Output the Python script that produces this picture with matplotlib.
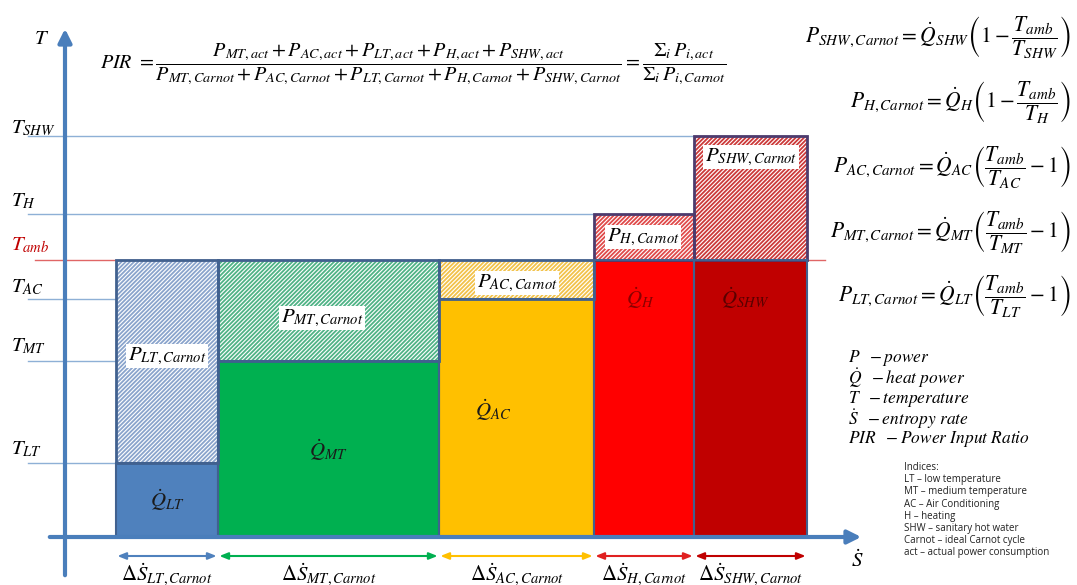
import matplotlib
matplotlib.use("Agg")
import matplotlib.pyplot as plt

plt.rcParams['mathtext.fontset'] = 'stix'
plt.rcParams['hatch.linewidth'] = 1.3

# data (arbitrary units, origin at the axes crossing)
sinks = ['LT', 'MT', 'AC', 'H', 'SHW']
s_start = 51                                  # first block starts here on the S axis
ds_widths = [102, 221, 155, 100, 113]         # entropy rate width per sink
t_levels = [74, 176, 238, 323, 401]           # sink temperature per sink
t_amb = 277
fill_colors = ['#4f81bd', '#00b050', '#ffc000', '#ff0000', '#c00000']
hatch_colors = ['#8aa4cc', '#4fb386', '#f2c24a', '#e04a4a', '#cc3a3a']
arrow_colors = ['#4f81bd', '#00b050', '#ffc000', '#e02020', '#c00000']

fig = plt.figure(figsize=(10.77, 5.85), dpi=100)
ax = fig.add_axes([0, 0, 1, 1])
ax.set_xlim(-65, 1012)
ax.set_ylim(-48, 537)
ax.axis('off')


def px(x):
    return x - 65


def py(y):
    return 537 - y


lefts = []
x = s_start
for w in ds_widths:
    lefts.append(x)
    x += w

# blocks
for i, name in enumerate(sinks):
    l, w, t = lefts[i], ds_widths[i], t_levels[i]
    q_top = min(t, t_amb)
    p_lo, p_hi = (t, t_amb) if t < t_amb else (t_amb, t)
    ax.bar(l, q_top, w, 0, align='edge', color=fill_colors[i], linewidth=0)
    ax.bar(l, p_hi - p_lo, w, p_lo, align='edge', facecolor='white',
           edgecolor=hatch_colors[i], hatch='////////', linewidth=0)
    outline = '#41618f' if t < t_amb else '#4d3b6e'
    ax.bar(l, p_hi - p_lo, w, p_lo, align='edge', fill=False,
           edgecolor=outline, linewidth=2, zorder=3)
    ax.bar(l, q_top, w, 0, align='edge', fill=False,
           edgecolor='#41618f', linewidth=1.5, zorder=3)

# temperature level lines
line_c = '#8eb0d6'
ax.plot([px(28), lefts[4] + ds_widths[4]], [t_levels[4]] * 2, color=line_c, lw=1, zorder=1)
ax.plot([px(28), lefts[3]], [t_levels[3]] * 2, color=line_c, lw=1, zorder=1)
for i in range(3):
    ax.plot([px(28), lefts[0]], [t_levels[i]] * 2, color=line_c, lw=1, zorder=1)
ax.plot([px(35), px(825)], [t_amb] * 2, color='#e06666', lw=1, zorder=1)

# axes arrows
axc = '#4a7ebb'
ax.annotate('', xy=(0, py(26)), xytext=(0, py(578)),
            arrowprops=dict(arrowstyle='-|>,head_length=0.8,head_width=0.4', color=axc, lw=3))
ax.annotate('', xy=(px(864), 0), xytext=(px(47), 0),
            arrowprops=dict(arrowstyle='-|>,head_length=0.8,head_width=0.4', color=axc, lw=3))

# temperature labels
fs = 15
ax.text(px(42), py(38), r'$T$', fontsize=fs, ha='center', va='center')
tl = [('$T_{SHW}$', 128, 'black'), ('$T_H$', 201, 'black'), ('$T_{amb}$', 245, '#c00000'),
      ('$T_{AC}$', 287, 'black'), ('$T_{MT}$', 346, 'black'), ('$T_{LT}$', 449, 'black')]
for s, y, c in tl:
    ax.text(px(11), py(y), s, fontsize=fs, ha='left', va='center', color=c)
ax.text(px(857), py(560), r'$\dot{S}$', fontsize=fs, ha='center', va='center')

# block labels
q_lab = [r'$\dot{Q}_{LT}$', r'$\dot{Q}_{MT}$', r'$\dot{Q}_{AC}$', r'$\dot{Q}_{H}$', r'$\dot{Q}_{SHW}$']
q_pos = [(167, 500), (328, 450), (493, 410), (640, 298), (745, 298)]
q_col = ['#1a1a1a', '#1a1a1a', '#1a1a1a', '#8a0000', '#5a0000']
for s, (xx, yy), c in zip(q_lab, q_pos, q_col):
    ax.text(px(xx), py(yy), s, fontsize=15, ha='center', va='center', color=c, zorder=4)

p_lab = [r'$P_{LT,Carnot}$', r'$P_{MT,Carnot}$', r'$P_{AC,Carnot}$', r'$P_{H,Carnot}$', r'$P_{SHW,Carnot}$']
p_pos = [(167, 356), (322, 318), (517, 283), (643, 237), (751, 157)]
for s, (xx, yy) in zip(p_lab, p_pos):
    ax.text(px(xx), py(yy), s, fontsize=15, ha='center', va='center', zorder=4,
            bbox=dict(fc='white', ec='none', pad=1))

# entropy arrows and labels
for i, name in enumerate(sinks):
    l, w = lefts[i], ds_widths[i]
    ax.annotate('', xy=(l + w, py(556)), xytext=(l, py(556)),
                arrowprops=dict(arrowstyle='<|-|>,head_length=0.5,head_width=0.2',
                                color=arrow_colors[i], lw=1.5, shrinkA=1, shrinkB=1))
    ax.text(l + w / 2, py(574), r'$\Delta\dot{S}_{%s,Carnot}$' % name, fontsize=15,
            ha='center', va='center')

# PIR formula
ax.text(px(100), py(64),
        r'$PIR\ =\dfrac{P_{MT,act}+P_{AC,act}+P_{LT,act}+P_{H,act}+P_{SHW,act}}'
        r'{P_{MT,Carnot}+P_{AC,Carnot}+P_{LT,Carnot}+P_{H,Carnot}+P_{SHW,Carnot}}'
        r'=\dfrac{\Sigma_i\, P_{i,act}}{\Sigma_i\, P_{i,Carnot}}$',
        fontsize=14.5, ha='left', va='center')

# Carnot power formulas
forms = [
    (r'$P_{SHW,Carnot}=\dot{Q}_{SHW}\left(1-\dfrac{T_{amb}}{T_{SHW}}\right)$', 38),
    (r'$P_{H,Carnot}=\dot{Q}_{H}\left(1-\dfrac{T_{amb}}{T_{H}}\right)$', 103),
    (r'$P_{AC,Carnot}=\dot{Q}_{AC}\left(\dfrac{T_{amb}}{T_{AC}}-1\right)$', 168),
    (r'$P_{MT,Carnot}=\dot{Q}_{MT}\left(\dfrac{T_{amb}}{T_{MT}}-1\right)$', 233),
    (r'$P_{LT,Carnot}=\dot{Q}_{LT}\left(\dfrac{T_{amb}}{T_{LT}}-1\right)$', 297),
]
for s, y in forms:
    ax.text(px(1071), py(y), s, fontsize=15.5, ha='right', va='center')

# symbol legend (one block of text)
legend_rows = [r'$P\ \ -power$', r'$\dot{Q}\ \ -heat\ power$', r'$T\ \ -temperature$',
               r'$\dot{S}\ \ -entropy\ rate$', r'$PIR\ \ -Power\ Input\ Ratio$']
ax.text(px(848), py(348), '\n'.join(legend_rows), fontsize=12.5, ha='left', va='top',
        linespacing=0.9)

indices = ['Indices:', 'LT \u2013 low temperature', 'MT \u2013 medium temperature',
           'AC \u2013 Air Conditioning', 'H \u2013 heating', 'SHW \u2013 sanitary hot water',
           'Carnot \u2013 ideal Carnot cycle', 'act \u2013 actual power consumption']
ax.text(px(904), py(462), '\n'.join(indices), fontsize=7, ha='left', va='top',
        family='Open Sans', color='#222222', linespacing=1.15)

fig.savefig('out.png', dpi=100)
